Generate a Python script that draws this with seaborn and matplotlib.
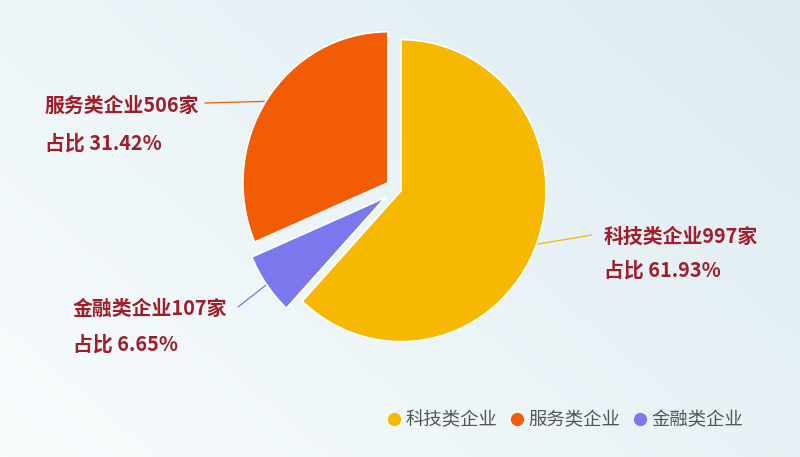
import seaborn as sns
import matplotlib.pyplot as plt
import numpy as np

# data
categories = ["科技类企业", "金融类企业", "服务类企业"]
counts = [997, 107, 506]
shares = [61.93, 6.65, 31.42]
explode = [0.03, 0.10, 0.075]
legend_order = ["科技类企业", "服务类企业", "金融类企业"]

colors = {"科技类企业": "#F7B801", "金融类企业": "#7B78EE", "服务类企业": "#F25C05"}
label_color = "#A11D2A"

sns.set_theme(style="white")
plt.rcParams["font.family"] = ["Noto Sans CJK SC", "DejaVu Sans"]

W, H = 800, 457
fig = plt.figure(figsize=(8, 4.57), dpi=100)
ax = fig.add_axes([0, 0, 1, 1])
ax.set_xlim(0, W)
ax.set_ylim(0, H)
ax.axis("off")

# soft background gradient
grad = np.linspace(0, 1, 256)
gx, gy = np.meshgrid(grad, grad)
g = 0.6 * gx + 0.4 * (1 - gy)
ax.imshow(g, extent=[0, W, 0, H], cmap=sns.blend_palette(["#F8FCFD", "#DDEBF1"], as_cmap=True),
          aspect="auto", zorder=0)

# pie axes: the reference pie is slightly taller than wide
cx, cy, rx, ry = 397, 189, 145, 151
pax = fig.add_axes([(cx - 2 * rx) / W, (H - cy - 1.5 * ry) / H, 4 * rx / W, 3 * ry / H])
wedges, _ = pax.pie(counts, colors=[colors[c] for c in categories], startangle=90,
                    counterclock=False, radius=1, explode=explode,
                    wedgeprops=dict(linewidth=1.2, edgecolor="white"))
pax.set_xlim(-2, 2)
pax.set_ylim(-1.5, 1.5)
pax.set_aspect("auto")
pax.axis("off")

label_pos = {
    "服务类企业": (45, H - 105, H - 143),
    "科技类企业": (604, H - 236, H - 270),
    "金融类企业": (73, H - 308, H - 344),
}
line_end = {
    "服务类企业": (205, H - 103),
    "科技类企业": (592, H - 235),
    "金融类企业": (238, H - 307),
}

to_main = pax.transData + ax.transData.inverted()
for w, cat, n, s in zip(wedges, categories, counts, shares):
    ang = np.deg2rad((w.theta1 + w.theta2) / 2)
    wx, wy = w.center
    px, py = to_main.transform((wx + 0.98 * np.cos(ang), wy + 0.98 * np.sin(ang)))
    ex, ey = line_end[cat]
    ax.plot([px, ex], [py, ey], color=colors[cat], lw=0.9, zorder=1)
    x, y1, y2 = label_pos[cat]
    ax.text(x, y1, f"{cat}{n}家", fontsize=14.3, fontweight="bold", color=label_color,
            va="center", ha="left")
    ax.text(x, y2, f"占比 {s:.2f}%", fontsize=14.3, fontweight="bold", color=label_color,
            va="center", ha="left")

handles = [plt.Line2D([], [], marker="o", ls="", markersize=8.5, color=colors[c]) for c in legend_order]
leg = ax.legend(handles, legend_order, loc="center", bbox_to_anchor=(564 / W, 1 - 420 / H),
                ncol=3, frameon=False, fontsize=13.2, handletextpad=0.1, columnspacing=0.6,
                handlelength=1.0)
for t in leg.get_texts():
    t.set_color("#555555")

plt.savefig("out.png", dpi=100)
